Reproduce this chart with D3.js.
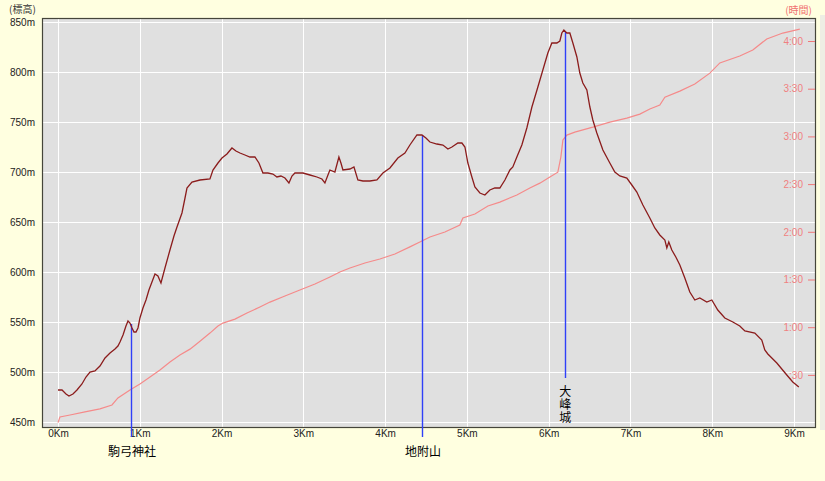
<!DOCTYPE html>
<html><head><meta charset="utf-8">
<script src="https://cdn.jsdelivr.net/npm/d3@7"></script>
<style>
html,body{margin:0;padding:0;background:#FFFFE0;}
svg{display:block;}
text{font-family:"Liberation Sans","DejaVu Sans",sans-serif;}
.cjk{font-family:"Noto Sans CJK JP","Noto Sans CJK SC",sans-serif;}
</style></head><body>
<script>
// ---- data ----
const elevKm = [0,0.049,0.098,0.134,0.183,0.232,0.293,0.342,0.391,0.452,0.513,0.575,0.636,0.697,0.733,0.758,0.795,0.831,0.856,0.880,0.905,0.929,0.954,0.978,1.002,1.039,1.076,1.112,1.149,1.186,1.222,1.259,1.308,1.369,1.418,1.455,1.516,1.553,1.577,1.638,1.736,1.858,1.895,1.956,2.005,2.066,2.127,2.176,2.225,2.286,2.347,2.408,2.457,2.506,2.567,2.628,2.677,2.726,2.775,2.824,2.861,2.897,2.995,3.081,3.166,3.227,3.264,3.301,3.325,3.386,3.435,3.460,3.484,3.570,3.619,3.667,3.729,3.814,3.900,3.973,4.059,4.156,4.242,4.303,4.389,4.450,4.499,4.548,4.633,4.707,4.768,4.817,4.890,4.939,4.976,5.012,5.061,5.098,5.159,5.220,5.281,5.342,5.403,5.465,5.526,5.562,5.611,5.672,5.733,5.795,5.868,5.929,5.990,6.039,6.100,6.137,6.161,6.186,6.222,6.259,6.296,6.345,6.381,6.418,6.467,6.504,6.540,6.589,6.663,6.748,6.809,6.870,6.956,7.017,7.078,7.152,7.237,7.298,7.359,7.421,7.445,7.469,7.506,7.555,7.604,7.665,7.726,7.787,7.848,7.934,7.995,8.068,8.154,8.252,8.337,8.399,8.521,8.606,8.643,8.680,8.790,8.912,8.985,9.059];
const elevM = [482,482,478,476,478,482,488,495,500,501,506,514,519,523,526,530,537,546,551,549,544,540,540,544,554,564,572,582,590,598,596,589,604,622,636,645,659,674,684,690,692,693,702,709,714,718,724,721,719,717,715,715,709,699,699,698,695,696,694,689,696,699,699,697,695,693,689,697,702,700,715,709,702,703,705,692,691,691,692,699,704,714,719,727,737,737,734,730,728,727,723,725,729,729,725,709,695,685,679,677,682,684,684,692,702,705,715,727,744,765,785,802,819,829,829,831,839,842,839,839,829,815,799,789,782,765,752,739,722,709,700,696,694,687,680,667,654,644,637,632,624,630,622,615,607,594,580,572,574,570,572,562,554,550,546,541,539,532,522,518,509,497,490,485];

const timeKm = [0,0.024,0.147,0.330,0.513,0.660,0.733,0.880,1.002,1.125,1.247,1.369,1.491,1.614,1.736,1.858,1.956,2.017,2.164,2.311,2.469,2.592,2.775,2.958,3.142,3.325,3.447,3.570,3.753,3.936,4.120,4.303,4.425,4.548,4.731,4.914,4.951,5.098,5.257,5.403,5.611,5.770,5.892,6.015,6.112,6.149,6.174,6.222,6.320,6.540,6.748,6.956,7.115,7.237,7.359,7.421,7.604,7.787,7.971,8.093,8.337,8.496,8.667,8.863,9.071];
const timeMin = [0,3.5,4.8,6.7,8.6,11.1,15.5,20.5,24.3,28.7,33.1,38.1,42.5,46.2,51.2,56.3,60.7,62.6,65.1,68.9,72.7,75.8,79.6,83.4,87.2,91.6,94.7,97.2,100.4,102.9,106.0,110.5,113.6,116.7,119.9,124.3,128.7,131.2,136.2,138.7,143.1,147.5,150.6,154.4,157.5,167.0,177.7,180.8,182.7,185.8,189.0,191.5,194.0,197.2,199.7,204.7,208.5,212.9,219.8,226.2,230.6,234.3,241.3,245.0,247.5];

const landmarkNames = ["駒弓神社","地附山","大峰城"];
const landmarkKm = [0.892, 4.450, 6.198];
const landmarkElev = [548, 737, 840];
const landmarkVertical = [false, false, true];

const xTicks = [0,1,2,3,4,5,6,7,8,9];
const xTickLabels = ["0Km","1Km","2Km","3Km","4Km","5Km","6Km","7Km","8Km","9Km"];
const elevTicks = [450,500,550,600,650,700,750,800,850];
const timeTicks = [30,60,90,120,150,180,210,240];
const timeTickLabels = [":30","1:00","1:30","2:00","2:30","3:00","3:30","4:00"];

// ---- chart ----
const W = 825, H = 481;
const plot = {left: 42, top: 18, right: 815, bottom: 427};
const svg = d3.select("body").append("svg").attr("width", W).attr("height", H);
svg.append("rect").attr("width", W).attr("height", H).attr("fill", "#FFFFE0");

const x = d3.scaleLinear().domain([0, 9]).range([58, 794]);
const yE = d3.scaleLinear().domain([450, 850]).range([422, 22]);
const yT = d3.scaleLinear().domain([0, 240]).range([422.6, 41]);

// side strip at right
svg.append("rect").attr("x", 820).attr("y", 15).attr("width", 5).attr("height", 415).attr("fill", "#EEEEE4");

svg.append("rect").attr("x", plot.left).attr("y", plot.top)
  .attr("width", plot.right - plot.left).attr("height", plot.bottom - plot.top)
  .attr("fill", "#E0E0E0");

// gridlines
const grid = svg.append("g").attr("stroke", "#FFFFFF").attr("stroke-width", 1).attr("shape-rendering", "crispEdges");
grid.selectAll(".h").data(elevTicks).join("line")
  .attr("x1", plot.left).attr("x2", plot.right)
  .attr("y1", d => Math.round(yE(d)) + 0.5).attr("y2", d => Math.round(yE(d)) + 0.5);
grid.selectAll(".v").data(xTicks).join("line")
  .attr("y1", plot.top).attr("y2", plot.bottom)
  .attr("x1", d => Math.round(x(d)) + 0.5).attr("x2", d => Math.round(x(d)) + 0.5);

// border
svg.append("rect").attr("x", plot.left + 0.5).attr("y", plot.top + 0.5)
  .attr("width", plot.right - plot.left).attr("height", plot.bottom - plot.top)
  .attr("fill", "none").attr("stroke", "#45453A").attr("stroke-width", 1.2);

// left axis
const axL = svg.append("g").attr("transform", `translate(${plot.left},0)`)
  .call(d3.axisLeft(yE).tickValues(elevTicks).tickFormat(d => d + "m").tickSize(0).tickPadding(7));
axL.select(".domain").remove();
axL.selectAll("text").attr("font-size", 10).attr("fill", "#222")
  .attr("font-family", "Liberation Sans, sans-serif");

// bottom axis
const axB = svg.append("g").attr("transform", `translate(0,${plot.bottom})`)
  .call(d3.axisBottom(x).tickValues(xTicks).tickFormat((d, i) => xTickLabels[i]).tickSize(0).tickPadding(3));
axB.select(".domain").remove();
axB.selectAll("text").attr("font-size", 10).attr("fill", "#222")
  .attr("font-family", "Liberation Sans, sans-serif");

// right time axis (inside plot)
const axR = svg.append("g").attr("transform", `translate(${plot.right},0)`)
  .call(d3.axisLeft(yT).tickValues(timeTicks).tickFormat((d, i) => timeTickLabels[i]).tickSize(7).tickPadding(5));
axR.select(".domain").remove();
axR.selectAll("line").attr("stroke", "#F07878");
axR.selectAll("text").attr("font-size", 10).attr("fill", "#F08080")
  .attr("font-family", "Liberation Sans, sans-serif");

// axis titles
svg.append("text").attr("class", "cjk").attr("x", 9).attr("y", 13)
  .attr("font-size", 10).attr("fill", "#333").text("(標高)");
svg.append("text").attr("class", "cjk").attr("x", 812).attr("y", 14).attr("text-anchor", "end")
  .attr("font-size", 10).attr("fill", "#F07070").text("(時間)");

// time line
const timeData = timeKm.map((k, i) => [k, timeMin[i]]);
svg.append("path").datum(timeData)
  .attr("d", d3.line().x(d => x(d[0])).y(d => yT(d[1])))
  .attr("fill", "none").attr("stroke", "#F58A8A").attr("stroke-width", 1.2);

// landmark lines
const lm = landmarkNames.map((n, i) => ({name: n, km: landmarkKm[i], elev: landmarkElev[i], vertical: landmarkVertical[i]}));
svg.append("g").selectAll("line").data(lm).join("line")
  .attr("x1", d => Math.round(x(d.km)) + 0.5).attr("x2", d => Math.round(x(d.km)) + 0.5)
  .attr("y1", d => yE(d.elev))
  .attr("y2", d => d.vertical ? yE.range()[0] - 44 : plot.bottom + 10)
  .attr("stroke", "#3040F8").attr("stroke-width", 1.4);

// elevation line
const elevData = elevKm.map((k, i) => [k, elevM[i]]);
svg.append("path").datum(elevData)
  .attr("d", d3.line().x(d => x(d[0])).y(d => yE(d[1])))
  .attr("fill", "none").attr("stroke", "#8B1C1C").attr("stroke-width", 1.3);

// landmark labels
lm.forEach(d => {
  const cx = x(d.km) + (d.vertical ? 0.5 : 1);
  if (d.vertical) {
    svg.append("text").attr("class", "cjk").attr("x", cx).attr("y", yE.range()[0] - 37)
      .attr("writing-mode", "vertical-rl").style("writing-mode", "vertical-rl")
      .attr("letter-spacing", 1)
      .attr("font-size", 12).attr("fill", "#000").text(d.name);
  } else {
    svg.append("text").attr("class", "cjk").attr("x", cx).attr("y", plot.bottom + 29)
      .attr("text-anchor", "middle").attr("font-size", 12).attr("fill", "#000").text(d.name);
  }
});
</script>
</body></html>
